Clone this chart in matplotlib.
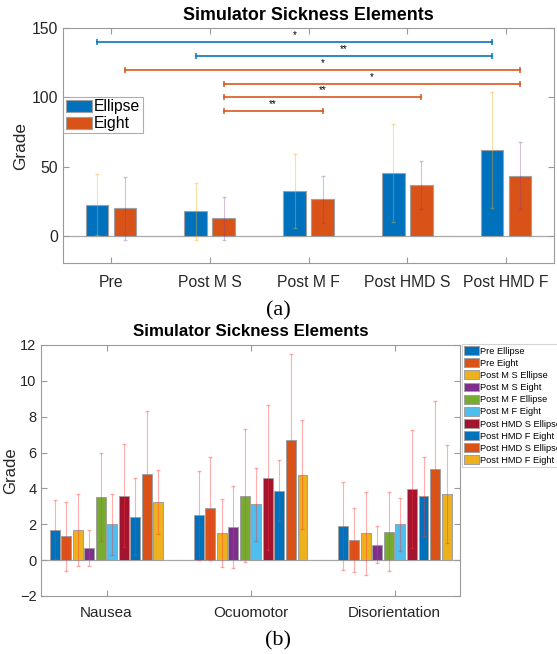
import matplotlib.pyplot as plt
import matplotlib.patches as mpatches
from matplotlib.legend_handler import HandlerPatch
import numpy as np

plt.rcParams['font.family'] = ['Liberation Sans', 'DejaVu Sans']

# ---- (a) data
phases = ['Pre', 'Post M S', 'Post M F', 'Post HMD S', 'Post HMD F']
ellipse_mean = [22.6, 17.6, 32.6, 45.5, 61.9]
ellipse_err = [22.1, 20.4, 26.9, 35.4, 42.1]
eight_mean = [19.8, 12.6, 26.4, 36.9, 43.3]
eight_err = [22.9, 15.6, 17.1, 17.3, 24.2]

# significance: (series, from phase, to phase, height, label)
sig_series = ['Ellipse', 'Ellipse', 'Eight', 'Eight', 'Eight', 'Eight']
sig_from = [0, 1, 0, 1, 1, 1]
sig_to = [4, 4, 4, 4, 3, 2]
sig_y = [140, 130, 120, 110, 100, 90]
sig_text = ['*', '**', '*', '*', '**', '**']

# ---- (b) data
elements = ['Nausea', 'Ocuomotor', 'Disorientation']
cond_labels = ['Pre Ellipse', 'Pre Eight', 'Post M S Ellipse', 'Post M S Eight',
               'Post M F Ellipse', 'Post M F Eight', 'Post HMD S Ellipse',
               'Post HMD F Eight', 'Post HMD S Ellipse', 'Post HMD F Eight']
nausea = [1.7, 1.32, 1.69, 0.67, 3.5, 1.99, 3.59, 2.42, 4.78, 3.22]
nausea_err = [1.65, 1.94, 2.0, 1.0, 2.45, 1.68, 2.88, 2.14, 3.55, 1.79]
ocuomotor = [2.49, 2.88, 1.49, 1.86, 3.59, 3.11, 4.6, 3.87, 6.7, 4.76]
ocuomotor_err = [2.46, 2.9, 1.9, 2.3, 3.7, 2.02, 4.03, 1.69, 4.78, 3.05]
disorientation = [1.88, 1.1, 1.49, 0.87, 1.58, 1.99, 3.98, 3.55, 5.1, 3.67]
disorientation_err = [2.45, 1.78, 2.32, 1.05, 2.2, 1.49, 3.28, 2.18, 3.77, 2.73]

blue = '#0072BD'
orange = '#D95319'
matlab_colors = ['#0072BD', '#D95319', '#EDB120', '#7E2F8E', '#77AC30',
                 '#4DBEEE', '#A2142F', '#0072BD', '#D95319', '#EDB120']
spine_col = '#9a9a9a'
text_col = '#262626'


def style_axes(ax):
    for s in ax.spines.values():
        s.set_color(spine_col)
        s.set_linewidth(0.8)
    ax.tick_params(direction='in', top=True, right=True, colors=spine_col,
                   labelcolor=text_col, length=4, width=0.8)
    ax.axhline(0, color='#a8a8a8', lw=0.9, zorder=1)


def shifted_patch(legend, orig_handle, xdescent, ydescent, width, height,
                  fontsize):
    # MATLAB style legend: colour box sits a bit in from the frame
    w = width * 0.62
    return mpatches.Rectangle((-xdescent + width - w, -ydescent - 1), w,
                              height + 2)


fig = plt.figure(figsize=(5.57, 6.54), dpi=100)

# ---------------- (a)
ax1 = fig.add_axes([0.1137, 0.5971, 0.8804, 0.3596])
x = np.arange(1, len(phases) + 1)
off = 0.142
w = 0.23
ax1.bar(x - off, ellipse_mean, w, color=blue, edgecolor='#a0a0a0', lw=0.8,
        label='Ellipse', zorder=2)
ax1.bar(x + off, eight_mean, w, color=orange, edgecolor='#a0a0a0', lw=0.8,
        label='Eight', zorder=2)
ax1.errorbar(x - off, ellipse_mean, yerr=ellipse_err, fmt='none',
             ecolor='#EDB120', alpha=0.4, elinewidth=0.8, capsize=1.5, zorder=3)
ax1.errorbar(x + off, eight_mean, yerr=eight_err, fmt='none',
             ecolor='#7E2F8E', alpha=0.3, elinewidth=0.8, capsize=1.5, zorder=3)

for s, a, b, y, t in zip(sig_series, sig_from, sig_to, sig_y, sig_text):
    c = blue if s == 'Ellipse' else orange
    o = -off if s == 'Ellipse' else off
    xs = [x[a] + o, x[b] + o]
    ax1.plot(xs, [y, y], color=c, lw=1.3, alpha=0.9, marker='|', ms=4,
             mew=1.2, zorder=4)
    ax1.text(np.mean(xs), y + 1.5, t, ha='center', va='bottom', fontsize=7,
             color='black')

ax1.set_xlim(0.516, 5.484)
ax1.set_ylim(-20, 150)
ax1.set_yticks([0, 50, 100, 150])
ax1.set_xticks(x)
ax1.set_xticklabels(phases, fontsize=11.3)
ax1.tick_params(axis='y', labelsize=11.3)
ax1.tick_params(axis='x', pad=8)
ax1.set_ylabel('Grade', fontsize=12.4, color=text_col)
ax1.yaxis.set_label_coords(-0.072, 0.5)
ax1.text(0.5, 1.054, 'Simulator Sickness Elements', transform=ax1.transAxes,
         ha='center', va='center', fontsize=12.9, fontweight='bold')
style_axes(ax1)
leg1 = ax1.legend(loc='upper left', bbox_to_anchor=(0.0, 0.549, 0.163, 0.16),
                  mode='expand', fontsize=11.3, handlelength=1.7,
                  handleheight=0.8, handletextpad=0.1, borderpad=0.15,
                  labelspacing=0.12, borderaxespad=0, fancybox=False,
                  edgecolor=spine_col,
                  handler_map={mpatches.Rectangle:
                               HandlerPatch(patch_func=shifted_patch)})
leg1.get_frame().set_linewidth(0.8)

fig.text(0.499, 0.5245, '(a)', ha='center', va='center', fontsize=16,
         family='Liberation Serif')

# ---------------- (b)
ax2 = fig.add_axes([0.0741, 0.0887, 0.7517, 0.3838])
xg = np.arange(1, len(elements) + 1)
vals = np.array([nausea, ocuomotor, disorientation])
errs = np.array([nausea_err, ocuomotor_err, disorientation_err])
step = 0.08
bw = 0.069
for i, lab in enumerate(cond_labels):
    pos = xg + (i - 4.5) * step
    ax2.bar(pos, vals[:, i], bw, color=matlab_colors[i], edgecolor='#a0a0a0',
            lw=0.7, label=lab, zorder=2)
    ax2.errorbar(pos, vals[:, i], yerr=errs[:, i], fmt='none',
                 ecolor='#ff3333', alpha=0.4, elinewidth=0.8, capsize=1.5,
                 zorder=3)

ax2.set_xlim(0.547, 3.453)
ax2.set_ylim(-2, 12)
ax2.set_yticks(range(-2, 13, 2))
ax2.set_xticks(xg)
ax2.set_xticklabels(elements, fontsize=11)
ax2.tick_params(axis='y', labelsize=10.5)
ax2.tick_params(axis='x', pad=7.5)
ax2.set_ylabel('Grade', fontsize=12, color=text_col)
ax2.yaxis.set_label_coords(-0.055, 0.5)
ax2.text(0.5, 1.052, 'Simulator Sickness Elements', transform=ax2.transAxes,
         ha='center', va='center', fontsize=12.2, fontweight='bold')
style_axes(ax2)
leg2 = ax2.legend(loc='upper left', bbox_to_anchor=(1.004, 1.003),
                  fontsize=6.7, handlelength=1.65, handleheight=1.1,
                  handletextpad=0.15, borderpad=0.2, labelspacing=0.27,
                  borderaxespad=0, fancybox=False, edgecolor='#c8c8c8')
leg2.get_frame().set_linewidth(0.8)

fig.text(0.499, 0.02, '(b)', ha='center', va='center', fontsize=16,
         family='Liberation Serif')

fig.savefig('out.png', dpi=100)
